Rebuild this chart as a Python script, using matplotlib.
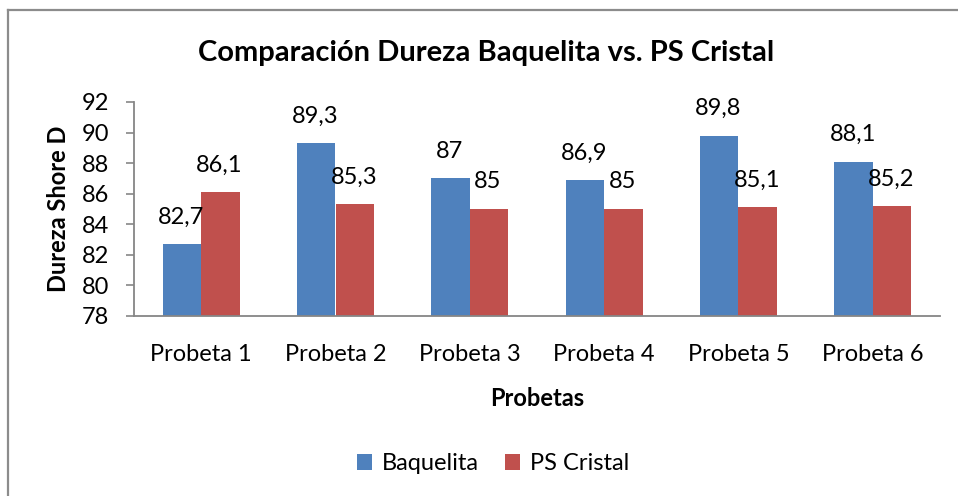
import matplotlib.pyplot as plt
from matplotlib.lines import Line2D
import numpy as np

plt.rcParams['font.family'] = ['Lato', 'DejaVu Sans']

probetas = ['Probeta 1', 'Probeta 2', 'Probeta 3', 'Probeta 4', 'Probeta 5', 'Probeta 6']
baquelita = [82.7, 89.3, 87.0, 86.9, 89.8, 88.1]
ps_cristal = [86.1, 85.3, 85.0, 85.0, 85.1, 85.2]

azul = '#4F81BD'
rojo = '#C0504D'
gris = '#868686'
fs = 17

W, H = 958, 496
fig = plt.figure(figsize=(W / 100, H / 100), dpi=100)
ax = fig.add_axes([134 / W, 1 - 316 / H, (940 - 134) / W, (316 - 102) / H])

x = np.arange(len(probetas))
w = 0.286
b1 = ax.bar(x - w / 2, baquelita, w, color=azul, label='Baquelita', zorder=2)
b2 = ax.bar(x + w / 2, ps_cristal, w, color=rojo, label='PS Cristal', zorder=2)

# etiquetas de valor con coma decimal
def etiquetar(barras, valores):
    for rect, v in zip(barras, valores):
        txt = ('%.1f' % v).replace('.', ',')
        if txt.endswith(',0'):
            txt = txt[:-2]
        ax.annotate(txt, (rect.get_x() + rect.get_width() / 2, v),
                    xytext=(-1, 27), textcoords='offset pixels',
                    ha='center', va='center', fontsize=fs)

etiquetar(b1, baquelita)
etiquetar(b2, ps_cristal)

ax.set_ylim(78, 92)
ax.set_yticks(np.arange(78, 93, 2))
ax.set_xlim(-0.5, len(probetas) - 0.5)
ax.set_xticks(x)
ax.set_xticklabels(probetas)
ax.tick_params(axis='x', length=0, pad=20, labelsize=fs)
ax.tick_params(axis='y', length=6, width=1.2, color=gris, pad=12, labelsize=fs)

for s in ['top', 'right']:
    ax.spines[s].set_visible(False)
for s in ['left', 'bottom']:
    ax.spines[s].set_color(gris)
    ax.spines[s].set_linewidth(1.3)

ax.set_xlabel('Probetas', fontsize=fs, fontweight='bold', labelpad=16)
ax.set_ylabel('Dureza Shore D', fontsize=fs, fontweight='bold', va='center')
ax.yaxis.set_label_coords((59 - 134) / 806, 0.5)

fig.text(486 / W, 1 - 53 / H, 'Comparación Dureza Baquelita vs. PS Cristal',
         ha='center', va='center', fontsize=21, fontweight='bold')

fig.legend(loc='center', bbox_to_anchor=(493 / W, 1 - 464 / H), ncol=2,
           frameon=False, fontsize=fs, handlelength=0.65, handleheight=0.65,
           handletextpad=0.4, columnspacing=1.1)

# marco del gráfico
fig.add_artist(Line2D([8 / W, 1], [1 - 9.5 / H, 1 - 9.5 / H], color='#8c8c8c', lw=1.6,
                      transform=fig.transFigure))
fig.add_artist(Line2D([8 / W, 8 / W], [0, 1 - 9.5 / H], color='#8c8c8c', lw=1.6,
                      transform=fig.transFigure))

fig.savefig('out.png', dpi=100)
